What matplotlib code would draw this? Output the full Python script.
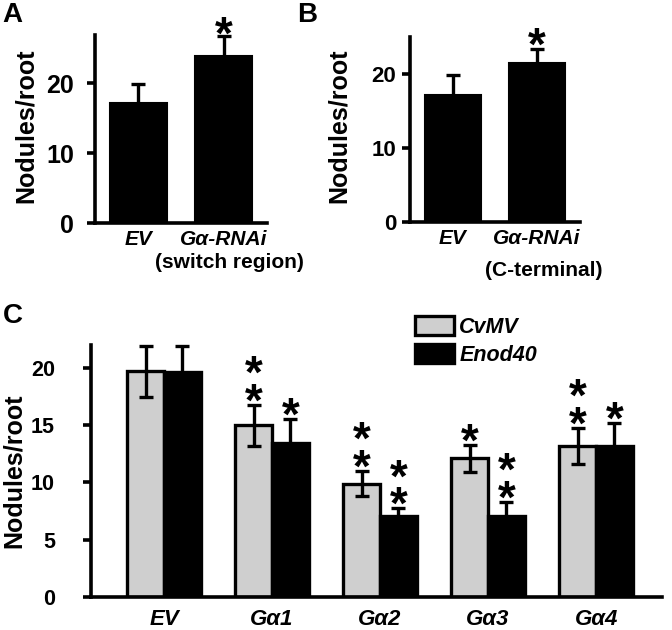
import numpy as np
import matplotlib
matplotlib.use('Agg')
import matplotlib.pyplot as plt
from matplotlib.transforms import blended_transform_factory

plt.rcParams['font.family'] = ['Liberation Sans', 'DejaVu Sans']
plt.rcParams['font.weight'] = 'bold'

# panel A / B data
ab_labels = ['EV', 'Gα-RNAi']
a_sub = '(switch region)'
a_means = [17.2, 23.9]
a_err = [2.7, 2.9]
a_stars = ['', '*']
b_sub = '(C-terminal)'
b_means = [17.2, 21.4]
b_err = [2.7, 2.0]
b_stars = ['', '*']

# panel C data
c_groups = ['EV', 'Gα1', 'Gα2', 'Gα3', 'Gα4']
cvmv_means = [19.7, 15.0, 9.9, 12.1, 13.2]
cvmv_err = [2.2, 1.8, 1.1, 1.15, 1.55]
enod_means = [19.6, 13.4, 7.1, 7.1, 13.2]
enod_err = [2.3, 2.1, 0.65, 1.2, 2.0]
cvmv_stars = ['', '**', '**', '*', '**']
enod_stars = ['', '*', '**', '**', '*']

GRAY = '#cfcfcf'
LW = 2.6
PX = 0.72  # points per pixel


def style_axis(ax, ytick_size, pad):
    for s in ['top', 'right']:
        ax.spines[s].set_visible(False)
    for s in ['left', 'bottom']:
        ax.spines[s].set_linewidth(LW)
    ax.tick_params(axis='y', direction='out', length=6, width=LW,
                   labelsize=ytick_size, pad=pad)
    ax.tick_params(axis='x', length=0)
    ax.set_ylabel('Nodules/root', fontsize=18, fontweight='bold')


def add_stars(ax, x, ytop, stars, first_px, size=33):
    # stacked asterisks as one text; glyph centre ~0.78 em above bbox bottom
    txt = '\n'.join('*' * len(stars))
    off = first_px * PX - 0.78 * size
    ax.annotate(txt, xy=(x, ytop), xytext=(0, off),
                textcoords='offset points', ha='center', va='bottom',
                fontsize=size, fontweight='bold', linespacing=0.52,
                annotation_clip=False)


def small_panel(rect, means, err, stars, sub, ymax, yticks, ytick_size,
                pad, star_px, sub_y, sub_x):
    ax = fig.add_axes(rect)
    x = np.arange(len(means))
    ax.bar(x, means, width=0.67, color='black', edgecolor='black',
           linewidth=1.5, zorder=2)
    ax.errorbar(x, means, yerr=err, fmt='none', ecolor='black',
                elinewidth=2.4, capsize=5, capthick=2.4, zorder=3,
                clip_on=False)
    for xi, m, e, s in zip(x, means, err, stars):
        if s:
            add_stars(ax, xi, m + e, s, star_px)
    ax.set_xlim(-0.51, 1.51)
    ax.set_ylim(0, ymax)
    ax.set_yticks(yticks)
    ax.set_xticks(x)
    ax.set_xticklabels(ab_labels, fontsize=15, fontstyle='italic',
                       fontweight='bold')
    ax.tick_params(axis='x', pad=5)
    style_axis(ax, ytick_size, pad)
    tr = blended_transform_factory(ax.transData, ax.transAxes)
    ax.text(sub_x, sub_y, sub, transform=tr, ha='center', va='top',
            fontsize=15, fontweight='bold')
    return ax


fig = plt.figure(figsize=(6.72, 6.3), dpi=100)

ax_a = small_panel([0.1414, 0.6456, 0.256, 0.299], a_means, a_err, a_stars,
                   a_sub, 26.9, [0, 10, 20], 18, 9, 13, -0.16, 1.07)
ax_a.yaxis.set_label_coords(-0.33, 0.52)

ax_b = small_panel([0.610, 0.6476, 0.253, 0.294], b_means, b_err, b_stars,
                   b_sub, 25, [0, 10, 20], 16, 4, 15, -0.21, 1.08)
ax_b.yaxis.set_label_coords(-0.35, 0.52)

# panel C
ax_c = fig.add_axes([0.1354, 0.0524, 0.8497, 0.40])
xc = np.arange(len(c_groups))
w = 0.34
ax_c.bar(xc - w / 2, cvmv_means, width=w, color=GRAY, edgecolor='black',
         linewidth=2.4, label='CvMV', zorder=2)
ax_c.bar(xc + w / 2, enod_means, width=w, color='black', edgecolor='black',
         linewidth=2.4, label='Enod40', zorder=2)
ax_c.errorbar(xc - w / 2, cvmv_means, yerr=cvmv_err, fmt='none',
              ecolor='black', elinewidth=2.4, capsize=5, capthick=2.4,
              zorder=3, clip_on=False)
ax_c.errorbar(xc + w / 2, enod_means, yerr=enod_err, fmt='none',
              ecolor='black', elinewidth=2.4, capsize=5, capthick=2.4,
              zorder=3, clip_on=False)
for i in range(len(c_groups)):
    if cvmv_stars[i]:
        add_stars(ax_c, xc[i] - w / 2, cvmv_means[i] + cvmv_err[i],
                  cvmv_stars[i], 15)
    if enod_stars[i]:
        add_stars(ax_c, xc[i] + w / 2, enod_means[i] + enod_err[i],
                  enod_stars[i], 15)
ax_c.set_xlim(-0.676, 4.61)
ax_c.set_ylim(0, 22)
ax_c.set_yticks([0, 5, 10, 15, 20])
ax_c.set_xticks(xc)
ax_c.set_xticklabels(c_groups, fontsize=16, fontstyle='italic',
                     fontweight='bold')
ax_c.tick_params(axis='x', pad=9)
style_axis(ax_c, 15.5, 20)
ax_c.yaxis.set_label_coords(-0.114, 0.5)

leg = ax_c.legend(loc='upper left', bbox_to_anchor=(415 / 672, 1 - 316 / 630),
                  bbox_transform=fig.transFigure, frameon=False,
                  prop={'size': 15.5, 'style': 'italic', 'weight': 'bold'},
                  handlelength=1.8, handleheight=1.0, handletextpad=0.25,
                  labelspacing=0.28, borderpad=0, borderaxespad=0)

# panel letters
fig.text(0.004, 0.997, 'A', fontsize=20, fontweight='bold', va='top')
fig.text(0.442, 0.997, 'B', fontsize=20, fontweight='bold', va='top')
fig.text(0.004, 0.519, 'C', fontsize=20, fontweight='bold', va='top')

fig.savefig('out.png', dpi=100)
